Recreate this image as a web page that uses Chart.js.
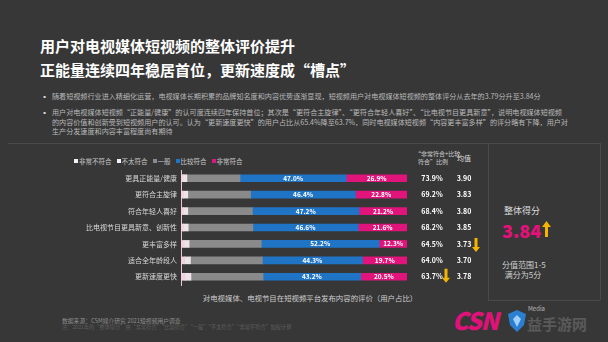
<!DOCTYPE html>
<html><head><meta charset="utf-8">
<script src="https://cdn.jsdelivr.net/npm/chart.js@4"></script>
<style>
html,body{margin:0;padding:0;background:#373737;width:608px;height:342px;overflow:hidden;font-family:"Noto Sans CJK SC","Noto Sans",sans-serif;}
#wrap{position:relative;width:608px;height:342px;}
canvas{position:absolute;left:0;top:0;}
.t{position:absolute;white-space:nowrap;}
.title{left:40px;color:#fff;font-weight:700;font-size:15px;line-height:18px;}
.bul{position:absolute;left:42px;width:526px;color:#b9b9b9;font-size:7.1px;line-height:9.4px;}
.bul span.d{position:absolute;left:-1px;color:#ddd;}
.bul div{padding-left:10px;position:relative;}
.leg{position:absolute;top:156px;left:74px;font-size:6.5px;color:#c8c8c8;white-space:nowrap;}
.leg i{display:inline-block;width:4px;height:4px;margin-right:1px;vertical-align:1px;}
.leg b{font-weight:400;margin-right:5px;}
.line{position:absolute;background:#4a4a4a;}
</style></head>
<body><div id="wrap">
<div class="t title" style="top:37px">用户对电视媒体短视频的整体评价提升</div>
<div class="t title" style="top:61px">正能量连续四年稳居首位，更新速度成“槽点”</div>
<div class="bul" style="top:92px">
<div><span class="d">▪</span>随着短视频行业进入精细化运营，电视媒体长期积累的品牌知名度和内容优势逐渐显现，短视频用户对电视媒体短视频的整体评分从去年的3.79分升至3.84分</div>
<div style="margin-top:7px"><span class="d">▪</span>用户对电视媒体短视频“正能量/健康”的认可度连续四年保持首位；其次是“更符合主旋律”、“更符合年轻人喜好”、“比电视节目更具新意”，说明电视媒体短视频的内容价值和创新受到短视频用户的认可。认为“更新速度更快”的用户占比从65.4%降至63.7%，同时电视媒体短视频“内容更丰富多样”的评分略有下降，用户对生产分发速度和内容丰富程度尚有期待</div>
</div>
<div class="line" style="left:8px;top:143px;width:592px;height:1px;"></div>
<div class="line" style="left:488px;top:143px;width:1px;height:157px;"></div>
<div class="line" style="left:488px;top:300px;width:112px;height:1px;"></div>
<div class="line" style="left:600px;top:143px;width:1px;height:157px;"></div>
<div class="leg" id="leg"></div>
<div class="t" style="left:415px;top:150px;width:36px;text-align:center;font-size:6px;line-height:8px;color:#cfcfcf;">“非常符合+比较<br>符合”比例</div>
<div class="t" style="left:455px;top:153px;width:18px;text-align:center;font-size:7px;color:#dcdcdc;">均值</div>
<div class="t" style="left:504px;top:204px;font-size:9px;color:#dedede;">整体得分</div>
<div class="t" style="left:502px;top:217px;font-size:18px;font-weight:900;color:#e5107a;">3.84</div>
<svg style="position:absolute;left:542px;top:221px" width="9" height="16" viewBox="0 0 9 16"><path d="M4.5 0 L9 6 L6 6 L6 16 L3 16 L3 6 L0 6 Z" fill="#f4b400"/></svg>
<div class="t" style="left:502px;top:260px;width:42px;text-align:center;font-size:8px;line-height:10px;color:#d0d0d0;">分值范围1-5<br>满分为5分</div>
<div class="t" style="left:200px;top:292px;width:220px;text-align:center;font-size:7.4px;color:#cfcfcf;">对电视媒体、电视节目在短视频平台发布内容的评价（用户占比）</div>
<div class="t" style="left:62px;top:316px;font-size:5.8px;color:#8d8d8d;">数据来源：CSM媒介研究 2021短视频用户调查</div>
<div class="t" style="left:62px;top:323px;font-size:5.2px;color:#5f5f5f;">注：2021年的“整体得分”由“非常符合”“比较符合”“一般”“不太符合”“非常不符合”加权计算</div>
<div class="t" style="left:452px;top:302px;font-size:24px;font-weight:900;font-style:italic;color:#e0127a;letter-spacing:-1px;">CSN</div>
<svg style="position:absolute;left:508px;top:310px" width="18" height="22" viewBox="0 0 18 22"><path d="M9 0 L18 4 L16 15 L9 22 L2 15 L0 4 Z" fill="#2a7fd0"/><path d="M9 5 L13 9 L9 17 L5 9 Z" fill="#9fd0ff"/></svg>
<div class="t" style="left:528px;top:304px;font-size:6px;color:#bbb;">Media</div>
<div class="t" style="left:527px;top:313px;font-size:15px;color:#5a5a5a;font-weight:700;">益手游网</div>
<canvas id="c" width="608" height="342"></canvas>
</div>
<script>
const categories = ["更具正能量/健康","更符合主旋律","符合年轻人喜好","比电视节目更具新意、创新性","更丰富多样","适合全年龄段人","更新速度更快"];
const seriesNames = ["非常不符合","不太符合","一般","比较符合","非常符合"];
const veryDisagree = [1.0,1.2,1.2,1.2,1.4,1.6,1.8];
const disagree = [1.6,1.8,1.8,2.0,2.2,2.6,2.6];
const neutral = [23.5,27.8,28.6,28.6,31.9,31.8,31.9];
const agree = [47.0,46.4,47.2,46.6,52.2,44.3,43.2];
const stronglyAgree = [26.9,22.8,21.2,21.6,12.3,19.7,20.5];
const agreeRatio = ["73.9%","69.2%","68.4%","68.2%","64.5%","64.0%","63.7%"];
const means = ["3.90","3.83","3.80","3.85","3.73","3.70","3.78"];

const colors = ["#f3d3df","#ece4e8","#8a8a8a","#1f74c6","#e0147a"];
const legendColors = ["#f2f2f2","#f2f2f2","#8a8a8a","#1f74c6","#e0147a"];

const leg = document.getElementById('leg');
leg.innerHTML = seriesNames.map((n,i)=>`<i style="background:${legendColors[i]}"></i><b>${n}</b>`).join('');

Chart.defaults.font.family = '"Noto Sans CJK SC","Noto Sans",sans-serif';

function arrow(ctx, x, y, up){
  ctx.save();
  ctx.fillStyle = '#f4b400';
  ctx.beginPath();
  if(up){
    ctx.moveTo(x, y-7); ctx.lineTo(x+4, y-2); ctx.lineTo(x+1.5, y-2); ctx.lineTo(x+1.5, y+7); ctx.lineTo(x-1.5, y+7); ctx.lineTo(x-1.5, y-2); ctx.lineTo(x-4, y-2);
  } else {
    ctx.moveTo(x, y+7); ctx.lineTo(x+4, y+2); ctx.lineTo(x+1.5, y+2); ctx.lineTo(x+1.5, y-7); ctx.lineTo(x-1.5, y-7); ctx.lineTo(x-1.5, y+2); ctx.lineTo(x-4, y+2);
  }
  ctx.closePath(); ctx.fill();
  ctx.restore();
}

const labelPlugin = {
  id: 'labelPlugin',
  afterDatasetsDraw(chart){
    const ctx = chart.ctx;
    ctx.save();
    ctx.textAlign = 'center';
    ctx.textBaseline = 'middle';
    ctx.fillStyle = '#ffffff';
    ctx.font = 'bold 6.5px "Noto Sans CJK SC", sans-serif';
    [3,4].forEach(di=>{
      const meta = chart.getDatasetMeta(di);
      const vals = chart.data.datasets[di].data;
      meta.data.forEach((bar,i)=>{
        const cx = (bar.x + bar.base)/2;
        ctx.fillText(vals[i].toFixed(1)+'%', cx, bar.y);
      });
    });
    const ys = chart.scales.y;
    ctx.font = 'bold 7px "Noto Sans CJK SC", sans-serif';
    categories.forEach((c,i)=>{
      const py = ys.getPixelForValue(i);
      ctx.fillText(agreeRatio[i], 432, py);
      ctx.fillText(means[i], 464, py);
    });
    arrow(ctx, 476, ys.getPixelForValue(4)+1, false);
    arrow(ctx, 446, ys.getPixelForValue(6)-1, false);
    ctx.restore();
  }
};

const data = [veryDisagree, disagree, neutral, agree, stronglyAgree];
new Chart(document.getElementById('c'), {
  type: 'bar',
  data: {
    labels: categories,
    datasets: seriesNames.map((n,i)=>({
      label: n, data: data[i], backgroundColor: colors[i], borderWidth: 0, barThickness: 7
    }))
  },
  options: {
    indexAxis: 'y',
    responsive: false,
    animation: false,
    layout: { padding: { left: 0, right: 201, top: 170, bottom: 57 } },
    plugins: { legend: { display: false }, tooltip: { enabled: false } },
    scales: {
      x: { stacked: true, min: 0, max: 100, display: false },
      y: {
        stacked: true,
        grid: { display: false, drawTicks: false },
        border: { display: true, color: '#e9c9d6', width: 1 },
        ticks: { color: '#d8d8d8', font: { size: 7 }, padding: 4 },
        afterFit(scale){ scale.width = 181; }
      }
    }
  },
  plugins: [labelPlugin]
});
</script>
</body></html>
